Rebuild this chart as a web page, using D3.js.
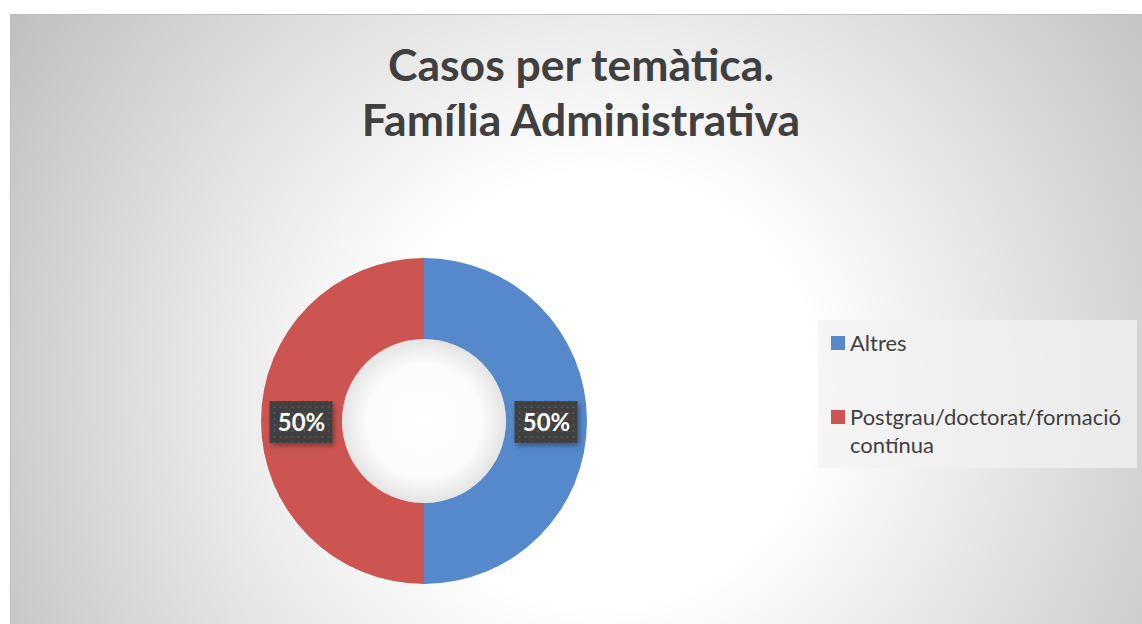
<!DOCTYPE html>
<html lang="ca">

<head>
	<meta charset="UTF-8">
	<title>Casos per temàtica</title>
	<script type="text/javascript" src="https://cdn.jsdelivr.net/npm/d3@7/dist/d3.min.js" charset="UTF-8"></script>
	<style>
		body { margin: 0; background: #fff; }
		svg { display: block; }
	</style>
</head>

<body>
	<script type="text/javascript">
	let titleLines = ['Casos per temàtica.', 'Família Administrativa']
	let categories = ['Altres', 'Postgrau/doctorat/formació contínua']
	let legendLines = [['Altres'], ['Postgrau/doctorat/formació', 'contínua']]
	let values = [50, 50]
	let colors = ['#5589cc', '#cd5551']

	let width = 1142,
		height = 624;
	let font = 'Lato, "Open Sans", sans-serif'

	let svg = d3.select('body').append('svg')
		.attr('width', width)
		.attr('height', height)

	let defs = svg.append('defs')

	let grad = defs.append('radialGradient')
		.attr('id', 'bg')
		.attr('gradientUnits', 'userSpaceOnUse')
		.attr('cx', 600).attr('cy', 390).attr('r', 720)
	grad.append('stop').attr('offset', '0%').attr('stop-color', '#ffffff')
	grad.append('stop').attr('offset', '30%').attr('stop-color', '#ffffff')
	grad.append('stop').attr('offset', '100%').attr('stop-color', '#bcbcbc')

	let holeGrad = defs.append('radialGradient').attr('id', 'hole')
	holeGrad.append('stop').attr('offset', '0%').attr('stop-color', '#ffffff')
	holeGrad.append('stop').attr('offset', '70%').attr('stop-color', '#fbfbfb')
	holeGrad.append('stop').attr('offset', '100%').attr('stop-color', '#e4e4e4')

	let pattern = defs.append('pattern')
		.attr('id', 'dots')
		.attr('patternUnits', 'userSpaceOnUse')
		.attr('width', 6).attr('height', 6)
	pattern.append('rect').attr('width', 6).attr('height', 6).attr('fill', '#3f3f3f')
	pattern.append('rect').attr('x', 2).attr('y', 2).attr('width', 2).attr('height', 2).attr('fill', '#525252')

	let shadow = defs.append('filter').attr('id', 'shadow')
		.attr('x', '-20%').attr('y', '-20%').attr('width', '150%').attr('height', '160%')
	shadow.append('feDropShadow')
		.attr('dx', 2).attr('dy', 3).attr('stdDeviation', 2.5)
		.attr('flood-color', '#000').attr('flood-opacity', 0.35)

	// chart area
	svg.append('rect')
		.attr('x', 10).attr('y', 14)
		.attr('width', width - 10).attr('height', height - 14)
		.attr('fill', 'url(#bg)')
	svg.append('path')
		.attr('d', `M10.5,${height} V14.5 H${width}`)
		.attr('fill', 'none')
		.attr('stroke', '#bfbfbf')
		.attr('stroke-width', 1)

	// title
	svg.append('text')
		.attr('x', 581)
		.attr('font-family', font)
		.attr('font-weight', 'bold')
		.attr('font-size', 44.5)
		.attr('fill', '#404040')
		.attr('text-anchor', 'middle')
		.selectAll('tspan')
		.data(titleLines)
		.enter()
		.append('tspan')
		.attr('x', 581)
		.attr('y', (d, i) => 81 + i * 55)
		.text(d => d)

	// donut
	let cx = 424,
		cy = 421,
		outerR = 163,
		innerR = 82;

	let pie = d3.pie().sort(null).value(d => d)
	let arc = d3.arc().innerRadius(innerR).outerRadius(outerR)
	let arcs = pie(values)

	let g = svg.append('g').attr('transform', `translate(${cx},${cy})`)

	g.append('circle')
		.attr('r', innerR)
		.attr('fill', 'url(#hole)')

	g.selectAll('path')
		.data(arcs)
		.enter()
		.append('path')
		.attr('d', arc)
		.attr('fill', (d, i) => colors[i])

	let labelArc = d3.arc().innerRadius((innerR + outerR) / 2).outerRadius((innerR + outerR) / 2)

	let labels = g.selectAll('g.label')
		.data(arcs)
		.enter()
		.append('g')
		.attr('class', 'label')
		.attr('transform', d => {
			let c = labelArc.centroid(d)
			return `translate(${c[0]},${c[1] + 1})`
		})

	labels.append('rect')
		.attr('x', -32).attr('y', -21)
		.attr('width', 63).attr('height', 42)
		.attr('fill', 'url(#dots)')
		.attr('filter', 'url(#shadow)')

	labels.append('text')
		.attr('y', 8.5)
		.attr('text-anchor', 'middle')
		.attr('font-family', font)
		.attr('font-weight', 'bold')
		.attr('font-size', 24)
		.attr('fill', '#ffffff')
		.text(d => Math.round(d.data / d3.sum(values) * 100) + '%')

	// legend
	svg.append('rect')
		.attr('x', 818).attr('y', 320)
		.attr('width', 319).attr('height', 148)
		.attr('fill', '#f2f2f2')
		.attr('fill-opacity', 0.75)

	let legend = svg.selectAll('g.legend')
		.data(categories)
		.enter()
		.append('g')
		.attr('class', 'legend')
		.attr('transform', (d, i) => `translate(831,${336 + i * 74})`)

	legend.append('rect')
		.attr('width', 14).attr('height', 14)
		.attr('fill', (d, i) => colors[i])

	legend.append('text')
		.attr('font-family', font)
		.attr('font-size', 22)
		.attr('fill', '#404040')
		.selectAll('tspan')
		.data((d, i) => legendLines[i])
		.enter()
		.append('tspan')
		.attr('x', 19)
		.attr('y', (d, i) => 15 + i * 28)
		.text(d => d)
	</script>
</body>

</html>
